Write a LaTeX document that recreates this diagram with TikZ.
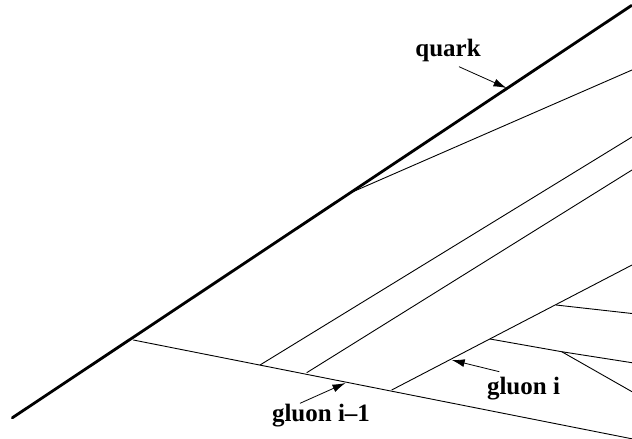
\documentclass[tikz,border=0pt]{standalone}
\usepackage{fontspec}
\setmainfont{Liberation Serif}
\usetikzlibrary{arrows.meta}
\begin{document}
\begin{tikzpicture}[x=1pt,y=-1pt,
  quarkline/.style={line width=2.8pt},
  gluonline/.style={line width=0.9pt},
  pointer/.style={line width=0.8pt,-{Latex[length=13pt,width=8pt]}},
  lbl/.style={font=\fontsize{25}{28}\selectfont\bfseries, inner sep=0pt, anchor=base}]
\useasboundingbox (0,0) rectangle (632,439);
\begin{scope}
\clip (0,0) rectangle (632,439);
% quark
\coordinate (q0) at (12.3,417.8);
\coordinate (q1) at (631.5,5.5);
\draw[quarkline, line cap=round] (q0) -- (q1);
% gluon from upper quark vertex
\coordinate (v1) at (353,191.7);
\coordinate (e1) at (632,70);
\draw[gluonline] (v1) -- (e1);
% gluon i-1
\coordinate (v0) at (133.3,340);
\coordinate (e0) at (632,438.8);
\draw[gluonline] (v0) -- (e0);
% lines from gluon i-1
\coordinate (a0) at (260,365);
\coordinate (a1) at (632,137);
\draw[gluonline] (a0) -- (a1);
\coordinate (b0) at (306.7,372.7);
\coordinate (b1) at (632,170);
\draw[gluonline] (b0) -- (b1);
% gluon i
\coordinate (c0) at (391.7,390);
\coordinate (c1) at (632,265);
\draw[gluonline] (c0) -- (c1);
% branches from gluon i
\coordinate (d0) at (556,305);
\coordinate (d1) at (632,313.5);
\draw[gluonline] (d0) -- (d1);
\coordinate (f0) at (490,339);
\coordinate (fm) at (561.7,351.7);
\coordinate (f1) at (632,362.7);
\draw[gluonline] (f0) -- (fm) -- (f1);
\coordinate (g1) at (632,391.7);
\draw[gluonline] (fm) -- (g1);
\end{scope}
% labels
\node[lbl] (lq) at (448,56) {quark};
\coordinate (lqt) at (459,66.7);
\coordinate (lqh) at (506.5,88);
\draw[pointer] (lqt) -- (lqh);
\node[lbl] (lgi) at (523.5,394) {gluon i};
\coordinate (lgit) at (499.3,371.7);
\coordinate (lgih) at (451.7,360);
\draw[pointer] (lgit) -- (lgih);
\node[lbl] (lgm) at (321,421) {gluon i–1};
\coordinate (lgmt) at (300,403.3);
\coordinate (lgmh) at (345.5,383);
\draw[pointer] (lgmt) -- (lgmh);
\end{tikzpicture}
\end{document}
